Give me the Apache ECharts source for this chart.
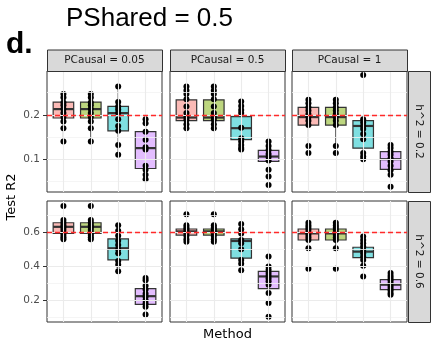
<!DOCTYPE html>
<html><head><meta charset="utf-8">
<script src="https://cdn.jsdelivr.net/npm/echarts@6/dist/echarts.min.js"></script>
<style>html,body{margin:0;padding:0;background:#fff}#c{width:432px;height:343px}</style>
</head><body><div id="c"></div>
<script>
// ---- data ----
const pcausal = ['0.05', '0.5', '1'];
const h2 = ['0.2', '0.6'];
const trueH2 = [0.2, 0.6];
const methodPos = [1, 2, 3, 4];
const fills = ['rgba(248,118,109,0.5)', 'rgba(124,174,0,0.5)', 'rgba(0,191,196,0.5)', 'rgba(199,124,255,0.5)'];

// y ranges and ticks per row
const yRangeTop = [0.026, 0.299];
const yRangeBottom = [0.069, 0.786];
const yTicksTop = [0.1, 0.2];
const yMinorTop = [0.05, 0.15, 0.25];
const yTicksBottom = [0.2, 0.4, 0.6];
const yMinorBottom = [0.1, 0.3, 0.5, 0.7];

// box stats: [low whisker, q1, median, q3, high whisker]
const box_h02_pc005 = [[0.140,0.193,0.213,0.229,0.247],[0.140,0.193,0.213,0.229,0.247],[0.110,0.164,0.204,0.219,0.264],[0.053,0.079,0.125,0.162,0.190]];
const box_h02_pc05  = [[0.170,0.187,0.194,0.234,0.264],[0.170,0.187,0.194,0.234,0.264],[0.122,0.144,0.170,0.196,0.230],[0.061,0.095,0.106,0.120,0.140]];
const box_h02_pc1   = [[0.130,0.177,0.195,0.217,0.234],[0.130,0.177,0.195,0.217,0.234],[0.100,0.125,0.175,0.187,0.190],[0.065,0.077,0.100,0.117,0.132]];
const box_h06_pc005 = [[0.559,0.594,0.633,0.657,0.673],[0.559,0.594,0.633,0.657,0.673],[0.369,0.437,0.506,0.561,0.643],[0.114,0.173,0.222,0.267,0.329]];
const box_h06_pc05  = [[0.545,0.584,0.606,0.620,0.643],[0.545,0.584,0.606,0.620,0.643],[0.375,0.447,0.549,0.561,0.649],[0.182,0.267,0.339,0.369,0.457]];
const box_h06_pc1   = [[0.506,0.555,0.594,0.620,0.657],[0.506,0.555,0.594,0.620,0.657],[0.402,0.451,0.486,0.512,0.575],[0.231,0.261,0.290,0.320,0.359]];

// individual points per method
const pts_h02_pc005 = [
  [0.247,0.239,0.228,0.222,0.213,0.204,0.195,0.185,0.170,0.140],
  [0.247,0.239,0.228,0.222,0.213,0.204,0.195,0.185,0.170,0.140],
  [0.264,0.229,0.219,0.212,0.204,0.190,0.175,0.164,0.132,0.110],
  [0.190,0.181,0.162,0.144,0.127,0.122,0.085,0.076,0.065,0.055]];
const pts_h02_pc05 = [
  [0.264,0.255,0.247,0.235,0.219,0.204,0.195,0.189,0.179,0.170],
  [0.264,0.255,0.247,0.235,0.219,0.204,0.195,0.189,0.179,0.170],
  [0.230,0.220,0.211,0.204,0.171,0.147,0.140,0.132,0.125,0.122],
  [0.140,0.130,0.121,0.112,0.105,0.097,0.076,0.061,0.042]];
const pts_h02_pc1 = [
  [0.234,0.226,0.217,0.210,0.202,0.195,0.187,0.177,0.130,0.114],
  [0.234,0.226,0.217,0.210,0.202,0.195,0.187,0.177,0.130,0.114],
  [0.290,0.190,0.183,0.175,0.168,0.157,0.145,0.114,0.106,0.100],
  [0.132,0.125,0.117,0.110,0.102,0.095,0.085,0.075,0.065,0.038]];
const pts_h06_pc005 = [
  [0.757,0.673,0.657,0.643,0.629,0.614,0.598,0.584,0.571,0.559],
  [0.757,0.673,0.657,0.643,0.629,0.614,0.598,0.584,0.571,0.559],
  [0.643,0.610,0.580,0.551,0.525,0.500,0.476,0.431,0.408,0.369],
  [0.329,0.316,0.284,0.261,0.237,0.218,0.198,0.178,0.159,0.114]];
const pts_h06_pc05 = [
  [0.708,0.643,0.629,0.618,0.604,0.594,0.578,0.559,0.545],
  [0.708,0.643,0.629,0.618,0.604,0.594,0.578,0.559,0.545],
  [0.649,0.618,0.594,0.555,0.535,0.500,0.437,0.414,0.375],
  [0.457,0.398,0.378,0.359,0.343,0.327,0.310,0.290,0.241,0.182,0.100]];
const pts_h06_pc1 = [
  [0.657,0.641,0.627,0.614,0.598,0.584,0.569,0.555,0.506,0.384],
  [0.657,0.641,0.627,0.614,0.598,0.584,0.569,0.555,0.506,0.384],
  [0.575,0.555,0.535,0.516,0.496,0.476,0.457,0.437,0.402,0.339],
  [0.359,0.343,0.329,0.316,0.300,0.284,0.271,0.257,0.241,0.231]];

// ---- layout ----
const colLeft = [47, 170, 292];
const panelW = 115;
const rowTop = [71, 201];
const panelH = 121;
const boxWidth = 0.75;
const FONT = 'DejaVu Sans';

const boxes = [[box_h02_pc005, box_h02_pc05, box_h02_pc1],[box_h06_pc005, box_h06_pc05, box_h06_pc1]];
const pts = [[pts_h02_pc005, pts_h02_pc05, pts_h02_pc1],[pts_h06_pc005, pts_h06_pc05, pts_h06_pc1]];
const yRanges = [yRangeTop, yRangeBottom];
const yTicks = [yTicksTop, yTicksBottom];
const yMinor = [yMinorTop, yMinorBottom];

const grids = [], xAxes = [], yAxes = [], series = [], graphics = [];
let k = 0;
for (let r = 0; r < 2; r++) {
  for (let c = 0; c < 3; c++) {
    grids.push({left: colLeft[c], top: rowTop[r], width: panelW, height: panelH, show: true,
      backgroundColor: '#fff', borderColor: '#333', borderWidth: 1});
    xAxes.push({type: 'value', gridIndex: k, min: 0.4, max: 4.6, show: false});
    yAxes.push({type: 'value', gridIndex: k, min: yRanges[r][0], max: yRanges[r][1],
      axisLine: {show: false}, splitLine: {show: false},
      axisTick: {show: c === 0, length: 4, lineStyle: {color: '#333'}, customValues: yTicks[r]},
      axisLabel: {show: c === 0, customValues: yTicks[r], fontSize: 10.5, color: '#4D4D4D', fontFamily: FONT, margin: 7,
        formatter: v => String(v)}});
    // background grid lines
    const gl = [];
    yMinor[r].forEach(v => gl.push({yAxis: v, lineStyle: {color: '#F2F2F2', width: 0.8, type: 'solid'}}));
    yTicks[r].forEach(v => gl.push({yAxis: v, lineStyle: {color: '#EBEBEB', width: 1.1, type: 'solid'}}));
    methodPos.forEach(v => gl.push({xAxis: v, lineStyle: {color: '#EBEBEB', width: 1.1, type: 'solid'}}));
    series.push({type: 'line', xAxisIndex: k, yAxisIndex: k, data: [], z: 1, silent: true,
      markLine: {silent: true, symbol: ['none', 'none'], label: {show: false}, animation: false, data: gl}});
    // boxes
    const bdata = boxes[r][c].map((b, i) => [methodPos[i], b[0], b[1], b[2], b[3], b[4], i]);
    series.push({type: 'custom', xAxisIndex: k, yAxisIndex: k, z: 2, silent: true,
      encode: {x: 0, y: [1, 2, 3, 4, 5]}, data: bdata,
      renderItem: function (params, api) {
        const x = api.value(0);
        const lo = api.coord([x, api.value(1)]);
        const q1 = api.coord([x, api.value(2)]);
        const md = api.coord([x, api.value(3)]);
        const q3 = api.coord([x, api.value(4)]);
        const hi = api.coord([x, api.value(5)]);
        const w = api.size([boxWidth, 0])[0];
        const ci = api.value(6);
        const st = {stroke: '#333', lineWidth: 1.1};
        return {type: 'group', children: [
          {type: 'line', shape: {x1: lo[0], y1: lo[1], x2: q1[0], y2: q1[1]}, style: st},
          {type: 'line', shape: {x1: q3[0], y1: q3[1], x2: hi[0], y2: hi[1]}, style: st},
          {type: 'rect', shape: {x: q1[0] - w / 2, y: q3[1], width: w, height: q1[1] - q3[1]}, style: {fill: fills[ci], stroke: '#333', lineWidth: 1.2}},
          {type: 'line', shape: {x1: md[0] - w / 2, y1: md[1], x2: md[0] + w / 2, y2: md[1]}, style: {stroke: '#333', lineWidth: 2.2}}
        ]};
      }});
    // reference line
    series.push({type: 'line', xAxisIndex: k, yAxisIndex: k, data: [], z: 3, silent: true,
      markLine: {silent: true, symbol: ['none', 'none'], label: {show: false}, animation: false,
        data: [{yAxis: trueH2[r], lineStyle: {color: '#FF2A2A', width: 1.3, type: [5, 3]}}]}});
    // points
    const pdata = [];
    pts[r][c].forEach((arr, i) => arr.forEach(v => pdata.push([methodPos[i], v])));
    series.push({type: 'scatter', xAxisIndex: k, yAxisIndex: k, z: 4, silent: true,
      symbolSize: 6, itemStyle: {color: '#000', opacity: 1}, data: pdata});
    k++;
  }
}

// strips
pcausal.forEach((p, c) => {
  graphics.push({type: 'rect', left: colLeft[c], top: 49.5, shape: {width: panelW, height: 21.5},
    style: {fill: '#D9D9D9', stroke: '#333', lineWidth: 1}, z: 10});
  graphics.push({type: 'text', x: colLeft[c] + panelW / 2, y: 60.3, z: 11,
    style: {text: 'PCausal = ' + p, fill: '#1A1A1A', font: '10.5px "' + FONT + '"', textAlign: 'center', textVerticalAlign: 'middle'}});
});
h2.forEach((h, r) => {
  graphics.push({type: 'rect', left: colLeft[2] + panelW + 1, top: rowTop[r], shape: {width: 22, height: panelH},
    style: {fill: '#D9D9D9', stroke: '#333', lineWidth: 1}, z: 10});
  graphics.push({type: 'text', x: colLeft[2] + panelW + 12, y: rowTop[r] + panelH / 2, rotation: -Math.PI / 2, z: 11,
    style: {text: 'h^2 = ' + h, fill: '#1A1A1A', font: '10.5px "' + FONT + '"', textAlign: 'center', textVerticalAlign: 'middle'}});
});
graphics.push({type: 'text', x: 66, y: 19, z: 11,
  style: {text: 'PShared = 0.5', fill: '#000', font: '26px "Liberation Sans"', textAlign: 'left', textVerticalAlign: 'middle'}});
graphics.push({type: 'text', x: 6, y: 45, z: 11,
  style: {text: 'd.', fill: '#000', font: 'bold 30px "Liberation Sans"', textAlign: 'left', textVerticalAlign: 'middle'}});
graphics.push({type: 'text', x: 12, y: 197, rotation: Math.PI / 2, z: 11,
  style: {text: 'Test R2', fill: '#000', font: '13px "' + FONT + '"', textAlign: 'center', textVerticalAlign: 'middle'}});
graphics.push({type: 'text', x: 227.5, y: 335, z: 11,
  style: {text: 'Method', fill: '#000', font: '13px "' + FONT + '"', textAlign: 'center', textVerticalAlign: 'middle'}});

const chart = echarts.init(document.getElementById('c'), null, {renderer: 'canvas'});
chart.setOption({animation: false, backgroundColor: '#fff', grid: grids, xAxis: xAxes, yAxis: yAxes, series: series, graphic: graphics});
</script></body></html>
